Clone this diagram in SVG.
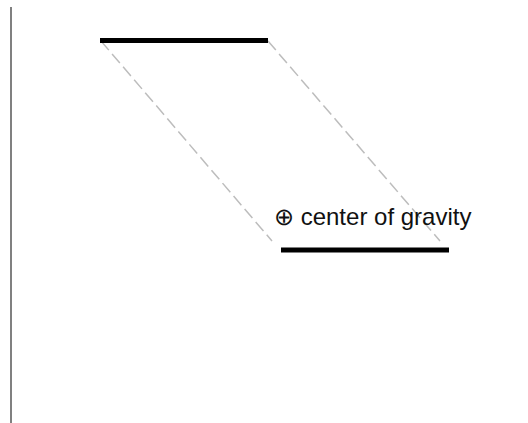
<svg xmlns="http://www.w3.org/2000/svg" width="528" height="423" viewBox="0 0 528 423">
<style>
.bar{stroke:#000;stroke-width:5;fill:none}
.guide{stroke:#bdbdbd;stroke-width:1.5;stroke-dasharray:12 5;fill:none}
.axis{stroke:#808080;stroke-width:2;fill:none}
.lbl{font-family:"Liberation Sans",Arial,sans-serif;font-size:24px;fill:#111}
</style>
<rect width="528" height="423" fill="#fff"/>
<g id="axis"><line class="axis" x1="11" y1="7" x2="11" y2="423"/></g>
<g id="connectors">
<line class="guide" x1="101" y1="41" x2="272" y2="241"/>
<line class="guide" x1="268" y1="41" x2="440" y2="241"/>
</g>
<g id="top-bar"><line class="bar" x1="100" y1="40.5" x2="268" y2="40.5"/></g>
<g id="bottom-bar"><line class="bar" x1="281" y1="250" x2="449" y2="250"/></g>
<g id="cog-label"><text class="lbl" x="274" y="225">⊕ center of gravity</text></g>
</svg>
